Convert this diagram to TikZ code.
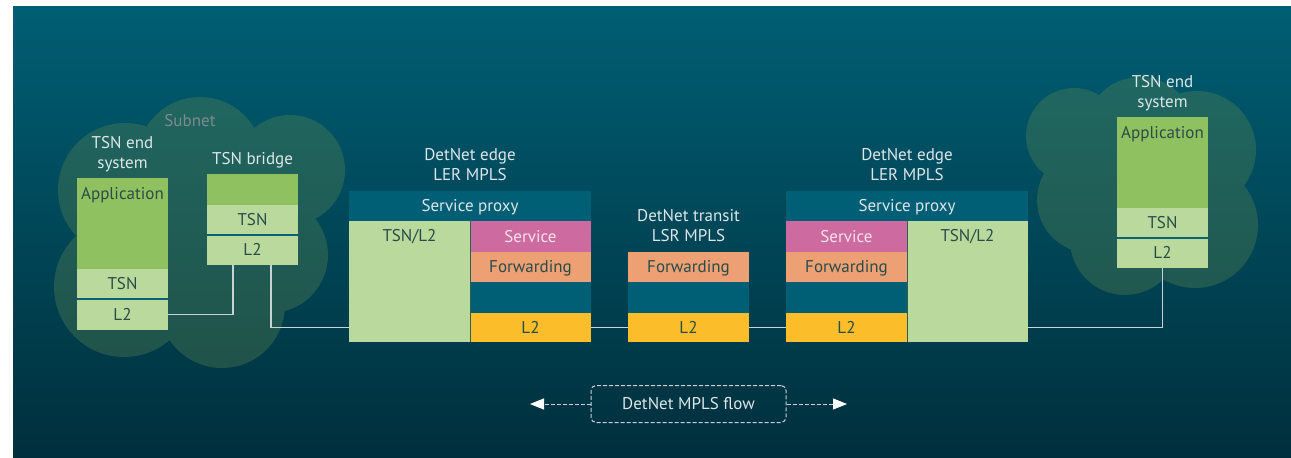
\documentclass[tikz,border=0pt]{standalone}
\usepackage{fontspec}
\setmainfont{PT Sans}
\usetikzlibrary{arrows.meta,calc}
\definecolor{bgtop}{HTML}{005E73}
\definecolor{bgbot}{HTML}{002F3C}
\definecolor{cloudc}{RGB}{100,140,80}
\definecolor{appg}{HTML}{90C160}
\definecolor{lightg}{HTML}{BAD99D}
\definecolor{proxyb}{HTML}{005E75}
\definecolor{servp}{HTML}{CD6BA1}
\definecolor{servt}{HTML}{F3E3EC}
\definecolor{fwdo}{HTML}{ECA073}
\definecolor{l2y}{HTML}{FBBD29}
\definecolor{txtd}{HTML}{2A4C48}
\definecolor{txtl}{HTML}{DCE6E8}
\definecolor{subg}{HTML}{7D8B8C}
\definecolor{linec}{HTML}{C9D2D4}
\definecolor{sepc}{HTML}{0C6176}
\definecolor{colsep}{HTML}{2D5F55}
\begin{document}
\begin{tikzpicture}[x=1pt,y=-1pt,
  every node/.style={font=\fontsize{17}{20}\selectfont},
  band/.style={anchor=north west, inner sep=0pt, outer sep=0pt, text height=11.9pt, text depth=0pt, text=txtd},
  bandtxt/.style={anchor=base, inner sep=0pt, text=txtd},
  hdr/.style={align=center, text=txtl, inner sep=0pt},
  conn/.style={draw=linec, line width=1.1pt},
  sepline/.style={draw=sepc, line width=2pt},
  colline/.style={draw=colsep, line width=1pt},
  flowline/.style={draw=linec, line width=1pt, dash pattern=on 4pt off 2pt},
]
\useasboundingbox (0,0) rectangle (1291,458);
\shade[top color=bgtop, bottom color=bgbot] (13,6) rectangle (1291,458);

% clouds
\fill[cloudc, fill opacity=0.32]
  (200,160) circle[radius=63] (290,170) circle[radius=55] (270,255) circle[radius=58]
  (222,305) circle[radius=63] (124,287) circle[radius=70] (125,190) circle[radius=67]
  (200,235) circle[radius=80];
\fill[cloudc, fill opacity=0.32]
  (1140,132) circle[radius=55] (1074,136) circle[radius=48] (1090,200) circle[radius=53]
  (1125,240) circle[radius=55] (1195,225) circle[radius=63] (1197,150) circle[radius=59]
  (1150,190) circle[radius=65];
\node[text=subg, anchor=base, inner sep=0pt] (lbl-sub) at (190,126.7) {Subnet};

% left TSN end system
\node[band, fill=appg, minimum width=91pt, minimum height=91pt] (esl-app) at (77,178) {};
\node[bandtxt] (esl-app-t) at ($(esl-app.north)+(0,21)$) {Application};
\node[band, fill=lightg, minimum width=91pt, minimum height=30pt] (esl-tsn) at (77,269) {TSN};
\node[band, fill=lightg, minimum width=91pt, minimum height=31pt] (esl-l2) at (77,299) {L2};
\draw[sepline] (esl-tsn.south west) -- (esl-tsn.south east);
\node[hdr] (lbl-esl) at (122.5,154) {TSN end\\system};

% TSN bridge
\node[band, fill=appg, minimum width=91pt, minimum height=31pt] (br-top) at (207,174) {};
\node[band, fill=lightg, minimum width=91pt, minimum height=30pt] (br-tsn) at (207,205) {TSN};
\node[band, fill=lightg, minimum width=91pt, minimum height=30pt] (br-l2) at (207,235) {L2};
\draw[sepline] (br-tsn.south west) -- (br-tsn.south east);
\node[hdr, anchor=base] (lbl-br) at (252.5,164) {TSN bridge};

% left LER
\node[band, fill=proxyb, text=txtl, minimum width=242pt, minimum height=30pt] (lerL-proxy) at (349,191) {Service proxy};
\node[band, fill=lightg, minimum width=121pt, minimum height=121pt] (lerL-tsn) at (349,221) {};
\node[bandtxt] (lerL-tsn-t) at ($(lerL-tsn.north)+(0,20.7)$) {TSN/L2};
\node[band, fill=servp, text=servt, minimum width=121pt, minimum height=30.5pt] (lerL-serv) at (470,221) {Service};
\node[band, fill=fwdo, minimum width=121pt, minimum height=30.5pt] (lerL-fwd) at (470,251.5) {Forwarding};
\node[band, fill=proxyb, minimum width=121pt, minimum height=31pt] (lerL-mid) at (470,282) {};
\node[band, fill=l2y, minimum width=121pt, minimum height=29pt] (lerL-l2) at (470,313) {L2};
\draw[colline] (lerL-tsn.north east) -- (lerL-tsn.south east);
\node[hdr] (lbl-lerL) at (470,165) {DetNet edge\\LER MPLS};

% transit LSR
\node[band, fill=fwdo, minimum width=121pt, minimum height=30.5pt] (tr-fwd) at (628,251.5) {Forwarding};
\node[band, fill=proxyb, minimum width=121pt, minimum height=31pt] (tr-mid) at (628,282) {};
\node[band, fill=l2y, minimum width=121pt, minimum height=29pt] (tr-l2) at (628,313) {L2};
\node[hdr] (lbl-tr) at (688.5,226) {DetNet transit\\LSR MPLS};

% right LER
\node[band, fill=proxyb, text=txtl, minimum width=242pt, minimum height=30pt] (lerR-proxy) at (786,191) {Service proxy};
\node[band, fill=servp, text=servt, minimum width=121pt, minimum height=30.5pt] (lerR-serv) at (786,221) {Service};
\node[band, fill=fwdo, minimum width=121pt, minimum height=30.5pt] (lerR-fwd) at (786,251.5) {Forwarding};
\node[band, fill=proxyb, minimum width=121pt, minimum height=31pt] (lerR-mid) at (786,282) {};
\node[band, fill=l2y, minimum width=121pt, minimum height=29pt] (lerR-l2) at (786,313) {L2};
\node[band, fill=lightg, minimum width=121pt, minimum height=121pt] (lerR-tsn) at (907,221) {};
\node[bandtxt] (lerR-tsn-t) at ($(lerR-tsn.north)+(0,20.7)$) {TSN/L2};
\draw[colline] (lerR-tsn.north west) -- (lerR-tsn.south west);
\node[hdr] (lbl-lerR) at (907,165) {DetNet edge\\LER MPLS};

% right TSN end system
\node[band, fill=appg, minimum width=91pt, minimum height=91pt] (esr-app) at (1117,117) {};
\node[bandtxt] (esr-app-t) at ($(esr-app.north)+(0,21)$) {Application};
\node[band, fill=lightg, minimum width=91pt, minimum height=30pt] (esr-tsn) at (1117,208) {TSN};
\node[band, fill=lightg, minimum width=91pt, minimum height=30pt] (esr-l2) at (1117,238) {L2};
\draw[sepline] (esr-tsn.south west) -- (esr-tsn.south east);
\node[hdr] (lbl-esr) at (1162.5,93) {TSN end\\system};

% connectors
\draw[conn] (esl-l2.east) -| ([xshift=26pt]br-l2.south west);
\draw[conn] ([xshift=64pt]br-l2.south west) |- (lerL-tsn.west |- lerL-l2.center);
\draw[conn] (lerL-l2.east) -- (tr-l2.west);
\draw[conn] (tr-l2.east) -- (lerR-l2.west);
\draw[conn] (lerR-tsn.east |- lerR-l2.center) -| (esr-l2.south);

% flow
\node[draw=linec, line width=1pt, dash pattern=on 4pt off 2pt, rounded corners=5pt,
      minimum width=195pt, minimum height=37pt, inner sep=0pt, text=txtl,
      text height=11.9pt, text depth=0pt] (flow) at (688.5,404) {DetNet MPLS flow};
\coordinate (flowL) at (530,404);
\coordinate (flowR) at (847,404);
\draw[flowline, -{Triangle[length=14pt,width=11pt,color=white]}] (flow.west) -- (flowL);
\draw[flowline, -{Triangle[length=14pt,width=11pt,color=white]}] (flow.east) -- (flowR);
\end{tikzpicture}
\end{document}
